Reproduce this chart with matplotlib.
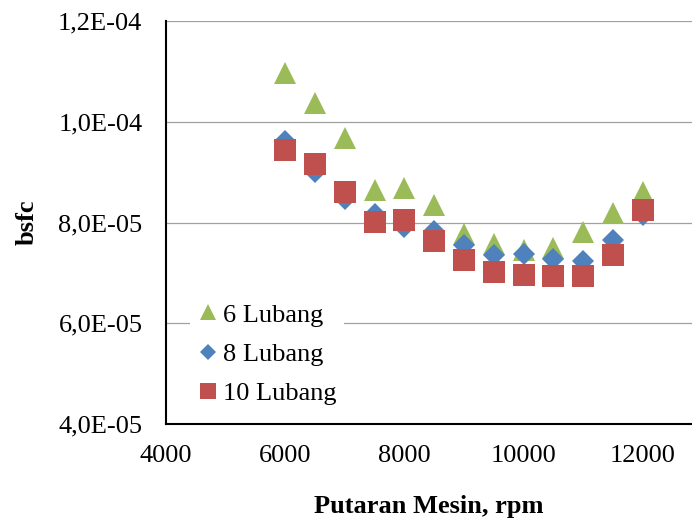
import matplotlib
matplotlib.use('Agg')
import matplotlib.pyplot as plt
from matplotlib.ticker import FuncFormatter

rpm = [6000, 6500, 7000, 7500, 8000, 8500, 9000, 9500, 10000, 10500, 11000, 11500, 12000]
bsfc_6 = [1.097e-4, 1.038e-4, 9.67e-5, 8.65e-5, 8.69e-5, 8.34e-5, 7.78e-5,
          7.58e-5, 7.45e-5, 7.50e-5, 7.81e-5, 8.19e-5, 8.60e-5]
bsfc_8 = [9.61e-5, 9.01e-5, 8.47e-5, 8.17e-5, 7.92e-5, 7.84e-5, 7.56e-5,
          7.36e-5, 7.38e-5, 7.28e-5, 7.23e-5, 7.66e-5, 8.15e-5]
bsfc_10 = [9.43e-5, 9.16e-5, 8.60e-5, 8.01e-5, 8.05e-5, 7.64e-5, 7.26e-5,
           7.02e-5, 6.95e-5, 6.93e-5, 6.93e-5, 7.36e-5, 8.25e-5]
labels = ['6 Lubang', '8 Lubang', '10 Lubang']

plt.rcParams['font.family'] = ['Liberation Serif', 'DejaVu Serif']
plt.rcParams['font.size'] = 19

fig = plt.figure(figsize=(6.92, 5.18), dpi=100)
ax = fig.add_axes([166 / 692, 1 - 424 / 518, (692 - 166) / 692, (424 - 21) / 518])

ax.plot(rpm, bsfc_6, '^', color='#9BBB59', ms=16, mew=0, label=labels[0])
ax.plot(rpm, bsfc_8, 'D', color='#4F81BD', ms=11.5, mew=0, label=labels[1])
ax.plot(rpm, bsfc_10, 's', color='#C0504D', ms=15.5, mew=0, label=labels[2])

ax.set_xlim(4000, 12826)
ax.set_ylim(4e-5, 1.2e-4)
ax.set_xticks([4000, 6000, 8000, 10000, 12000])
ax.set_yticks([4e-5, 6e-5, 8e-5, 1e-4, 1.2e-4])
ax.yaxis.set_major_formatter(FuncFormatter(lambda v, p: f'{v:.1E}'.replace('.', ',')))

ax.grid(axis='y', color='#A0A0A0', lw=0.9)
ax.set_axisbelow(True)
ax.tick_params(length=0)
ax.tick_params(axis='y', pad=17)
ax.tick_params(axis='x', pad=15)
for s in ['top', 'right']:
    ax.spines[s].set_visible(False)
for s in ['left', 'bottom']:
    ax.spines[s].set_linewidth(1.5)
    ax.spines[s].set_color('black')
    ax.spines[s].set_zorder(5)

ax.set_xlabel('Putaran Mesin, rpm', fontweight='bold', labelpad=20)
ax.set_ylabel('bsfc', fontweight='bold', labelpad=14)

leg = ax.legend(loc='lower left', bbox_to_anchor=(0.02, -0.006), frameon=True,
                facecolor='white', edgecolor='none', framealpha=1, fancybox=False,
                markerscale=0.75, handlelength=0.8, handletextpad=0.15,
                labelspacing=0.6, borderpad=0.3)
leg.set_zorder(4)

fig.savefig('out.png', dpi=100)
